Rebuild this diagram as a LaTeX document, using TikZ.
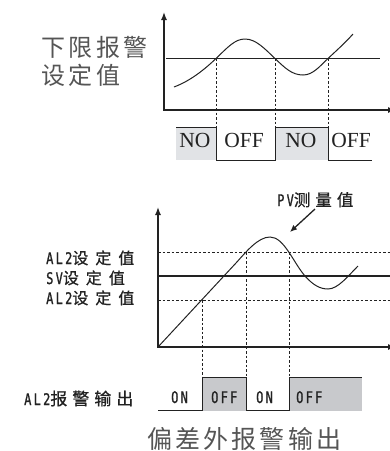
\documentclass[tikz,border=0pt]{standalone}
\usepackage{fontspec}
\setmainfont{Liberation Serif}
\newfontfamily\cjk{Noto Sans CJK SC}
\newfontfamily\cjkm[FakeBold=0.8]{Noto Sans CJK SC}
\newfontfamily\nar[FakeStretch=0.75,LetterSpace=14,FakeBold=1]{DejaVu Sans Mono}
\usetikzlibrary{arrows.meta}
\definecolor{ink}{HTML}{222222}
\definecolor{soft}{HTML}{555555}
\definecolor{fillA}{HTML}{E1E3E6}
\definecolor{fillB}{HTML}{C8C9CC}
\newcommand\gapS{\hspace{3.5pt}}
\newcommand\gapT{\hspace{3.2pt}}
\newcommand\gapM{\hspace{7pt}}
\newcommand\gapN{\hspace{5pt}}
\begin{document}
\begin{tikzpicture}[x=1pt,y=-1pt,
  axis/.style={line width=1.4pt,draw=ink,-{Latex[length=8pt,width=6pt]}},
  level/.style={line width=1.2pt,draw=ink},
  svlevel/.style={line width=2pt,draw=ink},
  guide/.style={line width=0.8pt,draw=ink,dash pattern=on 2.5pt off 2pt},
  wave/.style={line width=1pt,draw=ink},
  pvcurve/.style={line width=1pt,draw=ink},
  lbl/.style={inner sep=0pt,anchor=base west},
  bigcjk/.style={lbl,font=\cjk\fontsize{24}{24}\selectfont,text=soft},
  state/.style={inner sep=0pt,anchor=base,font=\fontsize{21.5}{21.5}\selectfont,text=ink},
  sstate/.style={lbl,font=\nar\fontsize{16}{16}\selectfont,text=ink},
  tick/.style={lbl,font=\nar\fontsize{16}{16}\selectfont,text=ink},
  pointer/.style={line width=1.3pt,draw=ink,-{Latex[length=7pt,width=6pt]}}
]
\useasboundingbox (0,0) rectangle (390,451);

% ---------- top diagram ----------
\fill[fillA] (176,127) rectangle (216,160);
\fill[fillA] (275,127) rectangle (328,160);
\draw[axis] (164,110.7) -- (164,12);
\draw[axis] (164,110) -- (396,110);
\draw[level] (166,58.5) -- (380,58.5);
\draw[pvcurve] (174,87) .. controls (190,81) and (204,70) .. (216,58.5)
  .. controls (228,47) and (235,39) .. (245,39)
  .. controls (256,39) and (265,49) .. (275,58.5)
  .. controls (285,68) and (292,75) .. (303,75)
  .. controls (313,75) and (320,66) .. (328,58.5)
  .. controls (336,51) and (345,43) .. (353,34);
\draw[guide] (216,58.5) -- (216,127);
\draw[guide] (275,58.5) -- (275,127);
\draw[guide] (328,58.5) -- (328,127);
\draw[wave,line width=0.9pt] (176,127) -- (216,127) -- (216,160) -- (275,160)
  -- (275,127) -- (328,127) -- (328,160) -- (372,160);
\node[bigcjk] (lim1) at (41,56) {下\gapS 限\gapS 报\gapS 警};
\node[bigcjk] (lim2) at (41,84) {设\gapS 定\gapS 值};
\node[state] (no1) at (195,147) {NO};
\node[state] (off1) at (244,147) {OFF};
\node[state] (no2) at (301,147) {NO};
\node[state] (off2) at (351,147) {OFF};

% ---------- bottom diagram ----------
\fill[fillB] (202,377) rectangle (246,411);
\fill[fillB] (289,377) rectangle (362,411);
\draw[axis] (158,347.7) -- (158,207);
\draw[axis] (158,347) -- (396,347);
\draw[guide] (158,252) -- (390,252);
\draw[guide] (158,300) -- (390,300);
\draw[svlevel] (158,276) -- (390,276);
\draw[pvcurve] (158,347) -- (236,263)
  .. controls (246,252) and (258,237) .. (270,237)
  .. controls (284,237) and (293,262) .. (305,276)
  .. controls (313,285) and (320,289) .. (328,289)
  .. controls (338,289) and (348,276) .. (358,266);
\draw[guide] (202,300) -- (202,377);
\draw[guide] (246,252) -- (246,377);
\draw[guide] (289,252) -- (289,377);
\draw[wave] (158,410) -- (202,410) -- (202,377) -- (246,377) -- (246,410)
  -- (289,410) -- (289,377) -- (362,377);

\node[tick] (al2hi) at (46,264) {AL2{\cjkm\fontsize{16}{16}\selectfont 设\gapM 定\gapM 值}};
\node[tick] (svset) at (46,284) {SV{\cjkm\fontsize{16}{16}\selectfont 设\gapM 定\gapM 值}};
\node[tick] (al2lo) at (46,304) {AL2{\cjkm\fontsize{16}{16}\selectfont 设\gapM 定\gapM 值}};
\node[tick] (pv) at (277,206) {PV{\cjkm\fontsize{16.5}{16.5}\selectfont 测\gapN 量\gapN 值}};
\coordinate (pvtail) at (315,209);
\coordinate (pvtip) at (290,232);
\draw[pointer] (pvtail) -- (pvtip);

\node[tick] (al2out) at (24,405) {AL2{\cjkm\fontsize{17}{17}\selectfont 报\gapN 警\gapN 输\gapN 出}};
\node[sstate] (on1) at (171,403) {ON};
\node[sstate] (off3) at (211,403) {OFF};
\node[sstate] (on2) at (256,403) {ON};
\node[sstate] (off4) at (296,403) {OFF};

\node[bigcjk,font=\cjk\fontsize{25}{25}\selectfont] (title) at (147,448) {偏\gapT 差\gapT 外\gapT 报\gapT 警\gapT 输\gapT 出};
\end{tikzpicture}
\end{document}
